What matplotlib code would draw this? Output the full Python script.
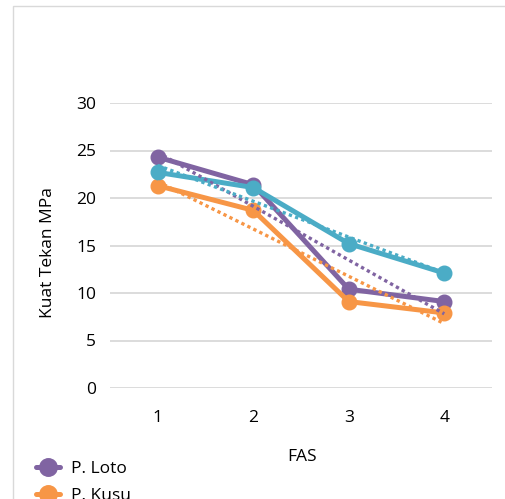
import numpy as np
import matplotlib
matplotlib.use("Agg")
import matplotlib.pyplot as plt
from matplotlib.patches import Rectangle

plt.rcParams['font.family'] = ['Open Sans', 'DejaVu Sans']

categories = [1, 2, 3, 4]
tick_labels = ["1", "2", "3", "4"]
series_names = ["P. Loto", "P. Kusu", "P. Lainnya"]
p_loto = [24.3, 21.4, 10.4, 9.1]
p_kusu = [21.3, 18.7, 9.1, 7.9]
p_lain = [22.7, 21.1, 15.2, 12.1]
colors = ["#8064A2", "#F79646", "#4BACC6"]
yticks = [0, 5, 10, 15, 20, 25, 30]

W, H = 505, 499
FS = 12.5
fig = plt.figure(figsize=(W / 100, H / 100), dpi=100)
fig.patch.set_facecolor("white")
# chart border
fig.add_artist(Rectangle((13 / W, -0.1), 1.2, (H - 6) / H + 0.1, transform=fig.transFigure,
                         fill=False, edgecolor="#d9d9d9", linewidth=1))

ax = fig.add_axes([110 / W, 1 - 388 / H, (492 - 110) / W, (388 - 103) / H])
ax.set_xlim(0.5, 4.5)
ax.set_ylim(0, 30)
ax.set_yticks(yticks)
ax.set_xticks(categories)
ax.set_xticklabels(tick_labels)
for s in ax.spines.values():
    s.set_visible(False)
ax.tick_params(length=0, labelsize=FS, colors="#000000")
ax.tick_params(axis='y', pad=10)
ax.tick_params(axis='x', pad=16)
for y in yticks:
    ax.axhline(y, color="#d9d9d9", lw=1.3, zorder=0)

x = np.array(categories, dtype=float)
handles = []
for vals, c, name in zip([p_loto, p_kusu, p_lain], colors, series_names):
    h, = ax.plot(x, vals, color=c, lw=3.6, marker="o", markersize=10.5,
                 solid_capstyle="round", label=name, zorder=3)
    handles.append(h)
for vals, c in zip([p_loto, p_kusu, p_lain], colors):
    k, b = np.polyfit(x, vals, 1)
    ax.plot(x, k * x + b, color=c, lw=2.4, linestyle=(0, (1, 1)), zorder=4)

fig.text(48 / W, 1 - 253 / H, "Kuat Tekan MPa", fontsize=FS, rotation=90,
         ha="center", va="center")
fig.text(302 / W, 1 - 457 / H, "FAS", fontsize=FS, ha="center", va="center")

fig.legend(handles=handles, loc="upper left", bbox_to_anchor=(36 / W, 1 - 461 / H),
           frameon=False, fontsize=FS, handlelength=1.4, labelspacing=0.6,
           handletextpad=0.6, borderaxespad=0, borderpad=0, markerscale=1.2)

fig.savefig("out.png", dpi=100)
